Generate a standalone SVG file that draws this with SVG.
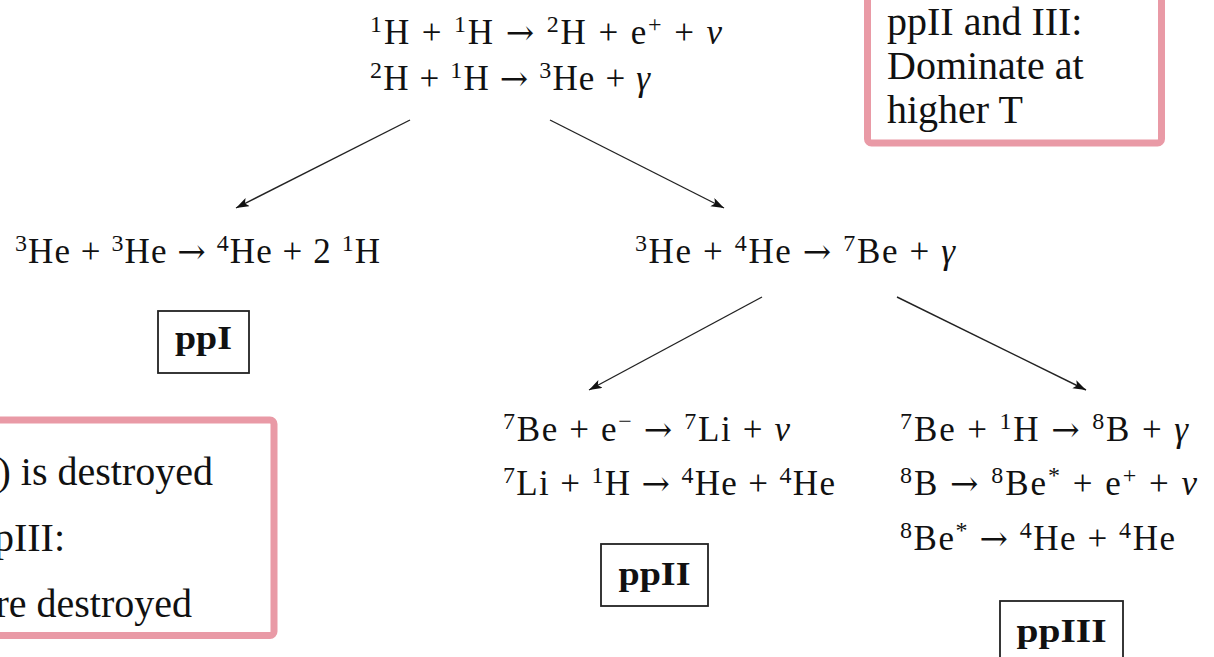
<svg xmlns="http://www.w3.org/2000/svg" width="1214" height="657" viewBox="0 0 1214 657">
<style>
.eq{font-family:"Liberation Serif","Times New Roman",serif;font-size:35px;fill:#111}
.s{font-size:24px}
.i{font-style:italic}
.ar{font-family:"DejaVu Serif",serif;font-size:34px}
.lbl{font-family:"Liberation Serif","Times New Roman",serif;font-size:33px;font-weight:bold;fill:#111;text-anchor:middle}
.fb{fill:none;stroke:#222;stroke-width:1.8}
.note{fill:#fff;stroke:#e99aa6;stroke-width:7}
.nt{font-family:"Liberation Serif","Times New Roman",serif;font-size:40px;fill:#111}
.con{stroke:#222;stroke-width:1.4;fill:none;marker-end:url(#ah)}
</style>
<defs>
<marker id="ah" markerUnits="userSpaceOnUse" markerWidth="14" markerHeight="10" refX="13" refY="4.5" orient="auto">
<path d="M0,0 L13,4.5 L0,9 L3,4.5 Z" fill="#111"/>
</marker>
</defs>
<rect width="1214" height="657" fill="#fff"/>

<g id="note-top">
<rect class="note" x="867.5" y="-20" width="294" height="163" rx="4"/>
<text class="nt" x="887" y="35">ppII and III:</text>
<text class="nt" x="887" y="79">Dominate at</text>
<text class="nt" x="887" y="123">higher T</text>
</g>

<g id="note-bottom">
<rect class="note" x="-20" y="420" width="294" height="215.5" rx="4"/>
<text class="nt" x="213" y="485" text-anchor="end">) is destroyed</text>
<text class="nt" x="65" y="551" text-anchor="end">pIII:</text>
<text class="nt" x="192" y="617" text-anchor="end">re destroyed</text>
</g>

<g id="pp-chain">
<text class="eq" x="370" y="44" textLength="352" lengthAdjust="spacing"><tspan class="s" dy="-12">1</tspan><tspan dy="12">H + </tspan><tspan class="s" dy="-12">1</tspan><tspan dy="12">H </tspan><tspan class="ar">→</tspan><tspan> </tspan><tspan class="s" dy="-12">2</tspan><tspan dy="12">H + e</tspan><tspan class="s" dy="-12">+</tspan><tspan dy="12"> + </tspan><tspan class="i">ν</tspan></text>
<text class="eq" x="370" y="90" textLength="280" lengthAdjust="spacing"><tspan class="s" dy="-12">2</tspan><tspan dy="12">H + </tspan><tspan class="s" dy="-12">1</tspan><tspan dy="12">H </tspan><tspan class="ar">→</tspan><tspan> </tspan><tspan class="s" dy="-12">3</tspan><tspan dy="12">He + </tspan><tspan class="i">γ</tspan></text>
</g>

<g id="ppI-reaction">
<text class="eq" x="15" y="263" textLength="365" lengthAdjust="spacing"><tspan class="s" dy="-12">3</tspan><tspan dy="12">He + </tspan><tspan class="s" dy="-12">3</tspan><tspan dy="12">He </tspan><tspan class="ar">→</tspan><tspan> </tspan><tspan class="s" dy="-12">4</tspan><tspan dy="12">He + 2 </tspan><tspan class="s" dy="-12">1</tspan><tspan dy="12">H</tspan></text>
</g>

<g id="ppII-III-reaction">
<text class="eq" x="635" y="263" textLength="320" lengthAdjust="spacing"><tspan class="s" dy="-12">3</tspan><tspan dy="12">He + </tspan><tspan class="s" dy="-12">4</tspan><tspan dy="12">He </tspan><tspan class="ar">→</tspan><tspan> </tspan><tspan class="s" dy="-12">7</tspan><tspan dy="12">Be + </tspan><tspan class="i">γ</tspan></text>
</g>

<g id="ppI-label">
<rect class="fb" x="158" y="311" width="91" height="62"/>
<text class="lbl" x="203.5" y="349" textLength="57" lengthAdjust="spacingAndGlyphs">ppI</text>
</g>

<g id="ppII-reactions">
<text class="eq" x="503" y="441" textLength="287" lengthAdjust="spacing"><tspan class="s" dy="-12">7</tspan><tspan dy="12">Be + e</tspan><tspan class="s" dy="-12">−</tspan><tspan dy="12"> </tspan><tspan class="ar">→</tspan><tspan> </tspan><tspan class="s" dy="-12">7</tspan><tspan dy="12">Li + </tspan><tspan class="i">ν</tspan></text>
<text class="eq" x="503" y="495" textLength="332" lengthAdjust="spacing"><tspan class="s" dy="-12">7</tspan><tspan dy="12">Li + </tspan><tspan class="s" dy="-12">1</tspan><tspan dy="12">H </tspan><tspan class="ar">→</tspan><tspan> </tspan><tspan class="s" dy="-12">4</tspan><tspan dy="12">He + </tspan><tspan class="s" dy="-12">4</tspan><tspan dy="12">He</tspan></text>
</g>

<g id="ppII-label">
<rect class="fb" x="601" y="544" width="107" height="62"/>
<text class="lbl" x="654.5" y="585" textLength="72" lengthAdjust="spacingAndGlyphs">ppII</text>
</g>

<g id="ppIII-reactions">
<text class="eq" x="900" y="441" textLength="288" lengthAdjust="spacing"><tspan class="s" dy="-12">7</tspan><tspan dy="12">Be + </tspan><tspan class="s" dy="-12">1</tspan><tspan dy="12">H </tspan><tspan class="ar">→</tspan><tspan> </tspan><tspan class="s" dy="-12">8</tspan><tspan dy="12">B + </tspan><tspan class="i">γ</tspan></text>
<text class="eq" x="900" y="495" textLength="297" lengthAdjust="spacing"><tspan class="s" dy="-12">8</tspan><tspan dy="12">B </tspan><tspan class="ar">→</tspan><tspan> </tspan><tspan class="s" dy="-12">8</tspan><tspan dy="12">Be</tspan><tspan class="s" dy="-12">*</tspan><tspan dy="12"> + e</tspan><tspan class="s" dy="-12">+</tspan><tspan dy="12"> + </tspan><tspan class="i">ν</tspan></text>
<text class="eq" x="900" y="550" textLength="275" lengthAdjust="spacing"><tspan class="s" dy="-12">8</tspan><tspan dy="12">Be</tspan><tspan class="s" dy="-12">*</tspan><tspan dy="12"> </tspan><tspan class="ar">→</tspan><tspan> </tspan><tspan class="s" dy="-12">4</tspan><tspan dy="12">He + </tspan><tspan class="s" dy="-12">4</tspan><tspan dy="12">He</tspan></text>
</g>

<g id="ppIII-label">
<rect class="fb" x="1000" y="601" width="123" height="62"/>
<text class="lbl" x="1061.5" y="642" textLength="90" lengthAdjust="spacingAndGlyphs">ppIII</text>
</g>

<g id="connectors">
<line class="con" x1="410" y1="120" x2="236" y2="208"/>
<line class="con" x1="550" y1="120" x2="724" y2="208"/>
<line class="con" x1="762" y1="297" x2="589" y2="390"/>
<line class="con" x1="897" y1="297" x2="1086" y2="390"/>
</g>
</svg>
